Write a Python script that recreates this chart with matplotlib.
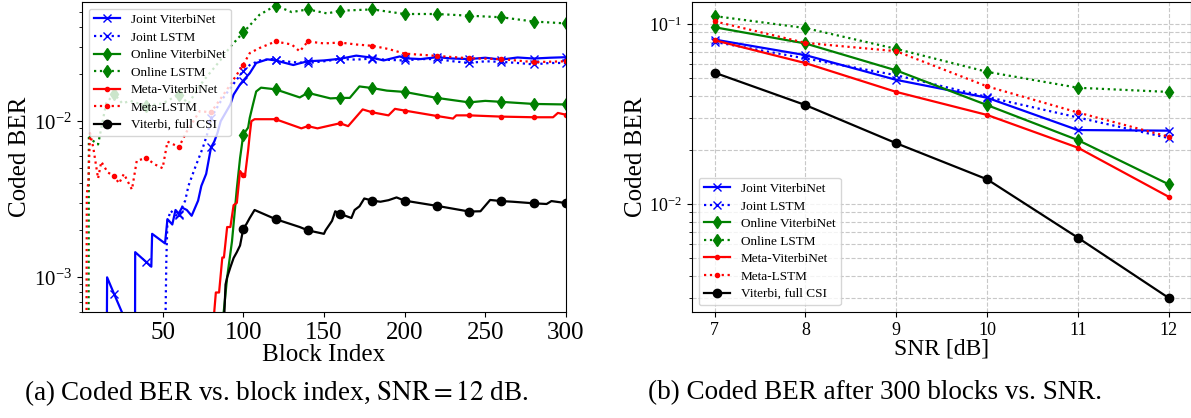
import numpy as np
import matplotlib
matplotlib.use("Agg")
import matplotlib.pyplot as plt

plt.rcParams["font.family"] = "serif"
plt.rcParams["font.serif"] = ["Liberation Serif", "DejaVu Serif"]
plt.rcParams["mathtext.fontset"] = "stix"

# ---------------------------
# (a) BER vs block index, SNR = 12 dB
# ---------------------------
joint_vnet_x = [15.4, 15.6, 20, 28, 32.9, 33, 40, 43, 43.5, 51.5, 53, 56, 58, 60, 62, 65, 68, 72, 74, 77,
                80, 82, 84, 86, 92, 94, 98, 100, 104, 108, 115, 120, 131, 135, 140, 150, 160, 170, 180,
                187, 197, 200, 210, 220, 230, 240, 250, 260, 270, 280, 290, 300]
joint_vnet_y = [4e-4, 1.0e-3, 7.8e-4, 5e-4, 4e-4, 1.45e-3, 1.25e-3, 1.17e-3, 1.9e-3, 1.65e-3, 2.36e-3,
                2.18e-3, 2.7e-3, 2.56e-3, 2.8e-3, 2.7e-3, 2.48e-3, 3.1e-3, 3.85e-3, 4.6e-3,
                6.8e-3, 7.4e-3, 8.4e-3, 1.0e-2, 1.28e-2, 1.48e-2, 1.72e-2, 1.82e-2, 2.03e-2, 2.36e-2,
                2.49e-2, 2.45e-2, 2.29e-2, 2.35e-2, 2.42e-2, 2.45e-2, 2.51e-2, 2.63e-2, 2.55e-2,
                2.45e-2, 2.6e-2, 2.53e-2, 2.5e-2, 2.57e-2, 2.52e-2, 2.5e-2, 2.55e-2, 2.48e-2, 2.56e-2,
                2.52e-2, 2.55e-2, 2.57e-2]

joint_lstm_x = [51.6, 52.3, 53, 55, 58, 60, 62, 64, 66, 70, 75, 78, 80, 86, 92, 100, 104, 110, 118, 120,
                131, 140, 150, 160, 170, 180, 190, 200, 210, 220, 230, 240, 250, 260, 270, 280, 290, 300]
joint_lstm_y = [4e-4, 1.28e-3, 2.3e-3, 2.67e-3, 2.5e-3, 2.5e-3, 2.8e-3, 3.1e-3, 3.85e-3, 5.0e-3, 6.8e-3,
                8.5e-3, 1.05e-2, 1.34e-2, 1.63e-2, 2.1e-2, 2.29e-2, 2.45e-2, 2.5e-2, 2.45e-2,
                2.39e-2, 2.36e-2, 2.42e-2, 2.5e-2, 2.48e-2, 2.52e-2, 2.47e-2, 2.45e-2, 2.5e-2, 2.5e-2,
                2.42e-2, 2.36e-2, 2.42e-2, 2.4e-2, 2.36e-2, 2.31e-2, 2.36e-2, 2.36e-2]

online_vnet_x = [87, 88, 90, 93, 96, 98, 100, 103, 104, 106, 108, 111, 120, 135, 140, 154, 160, 166, 172,
                 180, 189, 200, 220, 240, 250, 260, 280, 300]
online_vnet_y = [5e-4, 6.2e-4, 1.0e-3, 1.7e-3, 3.7e-3, 5.8e-3, 8.2e-3, 9.1e-3, 1.05e-2, 1.28e-2, 1.55e-2,
                 1.64e-2, 1.6e-2, 1.42e-2, 1.52e-2, 1.4e-2, 1.41e-2, 1.41e-2, 1.67e-2,
                 1.63e-2, 1.57e-2, 1.54e-2, 1.41e-2, 1.32e-2, 1.35e-2, 1.33e-2, 1.29e-2, 1.28e-2]

online_lstm_x = [4.1, 4.3, 6, 10, 15, 20, 25, 30, 40, 50, 60, 66, 75, 85, 92, 100, 110, 120, 130, 140,
                 152, 160, 180, 200, 220, 240, 260, 280, 300]
online_lstm_y = [4e-4, 8.2e-3, 7.6e-3, 7.1e-3, 1.3e-2, 1.5e-2, 1.3e-2, 1.35e-2, 1.25e-2, 1.3e-2, 1.48e-2,
                 1.3e-2, 1.8e-2, 2.4e-2, 3.0e-2, 3.7e-2, 4.8e-2, 5.5e-2, 5.0e-2, 5.2e-2,
                 4.9e-2, 5.1e-2, 5.2e-2, 4.86e-2, 4.86e-2, 4.74e-2, 4.63e-2, 4.35e-2, 4.23e-2]

meta_vnet_x = [81, 82, 83, 85, 87, 88, 90, 92, 94, 96, 98, 100, 101, 103, 104, 105, 107, 120, 136, 140,
               146, 154, 160, 165, 174, 180, 190, 194, 200, 220, 230, 232, 240, 260, 280, 292, 295, 300]
meta_vnet_y = [5e-4, 6e-4, 8e-4, 8e-4, 1.34e-3, 1.34e-3, 2.1e-3, 2.1e-3, 2.9e-3, 3.0e-3, 4.8e-3, 4.5e-3,
               4.4e-3, 6.5e-3, 8.2e-3, 1.0e-2, 1.03e-2, 1.03e-2, 9.0e-3, 9.3e-3,
               9.0e-3, 9.4e-3, 9.7e-3, 9.3e-3, 1.19e-2, 1.14e-2, 1.09e-2, 1.2e-2, 1.17e-2, 1.08e-2,
               1.04e-2, 1.09e-2, 1.09e-2, 1.07e-2, 1.06e-2, 1.06e-2, 1.13e-2, 1.1e-2]

meta_lstm_x = [2.8, 3.0, 4, 5, 7, 10, 12, 16, 20, 23, 26, 31, 34, 40, 45, 50, 53, 58, 60, 65, 73, 80,
               90, 100, 104, 110, 120, 130, 135, 140, 150, 160, 170, 180, 190, 200, 220, 240, 260, 280, 300]
meta_lstm_y = [4e-4, 3.4e-3, 4.1e-3, 8.4e-3, 6.8e-3, 4.3e-3, 5.5e-3, 4.7e-3, 4.45e-3, 4.0e-3, 4.6e-3,
               3.65e-3, 5.6e-3, 5.8e-3, 5.3e-3, 5.0e-3, 7.4e-3, 7.0e-3, 6.8e-3, 8.6e-3, 1.16e-2, 1.14e-2,
               1.6e-2, 2.3e-2, 2.73e-2, 2.94e-2, 3.24e-2, 3.1e-2, 2.8e-2, 3.24e-2, 3.15e-2, 3.19e-2,
               3.1e-2, 3.04e-2, 2.9e-2, 2.71e-2, 2.62e-2, 2.53e-2, 2.5e-2, 2.39e-2, 2.42e-2]

viterbi_x = [88, 89, 90, 92, 94, 96, 98, 100, 102, 104, 107, 120, 135, 140, 150, 151, 155, 157, 160, 167,
             169, 172, 175, 180, 185, 190, 195, 200, 220, 240, 247, 253, 260, 267, 280, 288, 291, 300]
viterbi_y = [5e-4, 9e-4, 1.0e-3, 1.16e-3, 1.33e-3, 1.45e-3, 1.6e-3, 2.05e-3, 2.2e-3, 2.4e-3, 2.7e-3,
             2.36e-3, 2.1e-3, 2.0e-3, 1.9e-3, 2.0e-3, 2.3e-3, 2.65e-3, 2.55e-3, 2.4e-3,
             2.7e-3, 2.85e-3, 3.2e-3, 3.1e-3, 3.05e-3, 3.12e-3, 3.25e-3, 3.1e-3, 2.87e-3, 2.64e-3,
             2.65e-3, 3.13e-3, 3.08e-3, 3.05e-3, 2.98e-3, 2.95e-3, 3.08e-3, 2.99e-3]

# ---------------------------
# (b) BER after 300 blocks vs SNR
# ---------------------------
snr = [7, 8, 9, 10, 11, 12]
joint_vnet_snr = [0.082, 0.0672, 0.049, 0.039, 0.0258, 0.0256]
joint_lstm_snr = [0.0796, 0.0644, 0.052, 0.0394, 0.0303, 0.0233]
online_vnet_snr = [0.096, 0.078, 0.0553, 0.0355, 0.0227, 0.0129]
online_lstm_snr = [0.1107, 0.095, 0.0728, 0.0543, 0.0443, 0.042]
meta_vnet_snr = [0.0813, 0.0607, 0.042, 0.0313, 0.0206, 0.011]
meta_lstm_snr = [0.1035, 0.0786, 0.0707, 0.0451, 0.0323, 0.0237]
viterbi_snr = [0.0537, 0.0355, 0.0218, 0.01375, 0.00652, 0.00302]

labels = ["Joint ViterbiNet", "Joint LSTM", "Online ViterbiNet", "Online LSTM",
          "Meta-ViterbiNet", "Meta-LSTM", "Viterbi, full CSI"]
styles = [("b", "-", "x", 6), ("b", ":", "x", 6), ("g", "-", "d", 6), ("g", ":", "d", 6),
          ("r", "-", ".", 6), ("r", ":", ".", 6), ("k", "-", "o", 6)]

fig = plt.figure(figsize=(11.91, 4.18), dpi=100)
ax1 = fig.add_axes([0.0688, 0.2536, 0.4064, 0.7416])
ax2 = fig.add_axes([0.581, 0.2536, 0.4193, 0.7416])

block_series = [(joint_vnet_x, joint_vnet_y), (joint_lstm_x, joint_lstm_y),
                (online_vnet_x, online_vnet_y), (online_lstm_x, online_lstm_y),
                (meta_vnet_x, meta_vnet_y), (meta_lstm_x, meta_lstm_y),
                (viterbi_x, viterbi_y)]
for (xs, ys), lab, (c, ls, m, ms) in zip(block_series, labels, styles):
    xs = np.array(xs, dtype=float)
    marks = [i for i, v in enumerate(xs) if v % 20 == 0]
    ax1.semilogy(xs, ys, color=c, linestyle=ls, marker=m, markersize=ms,
                 markevery=marks, linewidth=1.6, label=lab)

ax1.set_xlim(0, 300)
ax1.set_ylim(6.0e-4, 0.058)
ax1.set_xticks([50, 100, 150, 200, 250, 300])
ax1.tick_params(axis="x", labelsize=18)
ax1.tick_params(axis="y", labelsize=15)
ax1.set_xlabel("Block Index", fontsize=18, labelpad=0)
ax1.set_ylabel("Coded BER", fontsize=18, labelpad=2)
ax1.legend(loc="upper left", fontsize=9.5, framealpha=0.8, labelspacing=0.4)

snr_series = [joint_vnet_snr, joint_lstm_snr, online_vnet_snr, online_lstm_snr,
              meta_vnet_snr, meta_lstm_snr, viterbi_snr]
for ys, lab, (c, ls, m, ms) in zip(snr_series, labels, styles):
    ax2.semilogy(snr, ys, color=c, linestyle=ls, marker=m, markersize=ms,
                 linewidth=1.6, label=lab)

ax2.set_xticks(snr)
ax2.grid(True, which="both", linestyle="--", color="#c8c8c8", linewidth=0.8)
ax2.tick_params(axis="both", labelsize=13)
ax2.set_xlabel("SNR [dB]", fontsize=17, labelpad=0)
ax2.set_ylabel("Coded BER", fontsize=18, labelpad=2)
ax2.legend(loc="lower left", fontsize=9.5, framealpha=0.8, labelspacing=0.4)

fig.text(0.232, 0.06, r"(a) Coded BER vs. block index, $\mathrm{SNR} = 12$ dB.",
         ha="center", va="center", fontsize=19.5)
fig.text(0.735, 0.06, "(b) Coded BER after 300 blocks vs. SNR.",
         ha="center", va="center", fontsize=19.5)

fig.savefig("out.png", dpi=100)
